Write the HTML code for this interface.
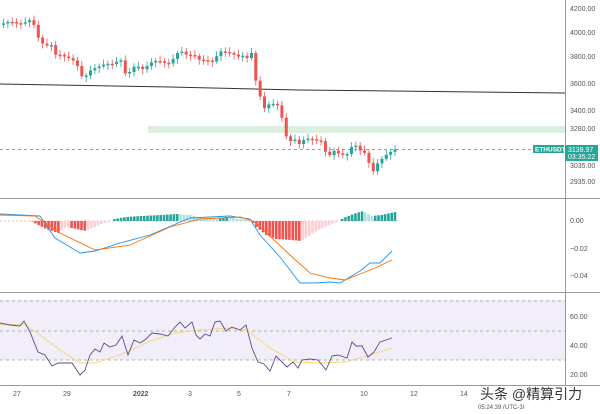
<!DOCTYPE html><html><head><meta charset="utf-8"><style>
body{margin:0;background:#fff;width:600px;height:409px;overflow:hidden;font-family:"Liberation Sans","Noto Sans CJK SC",sans-serif}
svg text{font-family:"Liberation Sans","Noto Sans CJK SC",sans-serif}
</style></head><body>
<svg id="s" width="600" height="409" xmlns="http://www.w3.org/2000/svg">
<rect x="148" y="126" width="417" height="7" fill="#dcefdc"/>
<line x1="0" y1="149.5" x2="565" y2="149.5" stroke="#26a69a" stroke-dasharray="3,3" stroke-width="0.7"/>
<polyline points="0,84 170,87 300,90 565,93" fill="none" stroke="#333" stroke-width="1"/>
<rect x="0" y="300" width="565" height="60" fill="#f1eefa"/>
<g stroke="#999" stroke-dasharray="3,3" stroke-width="0.7"><line x1="0" y1="301" x2="565" y2="301"/><line x1="0" y1="331" x2="565" y2="331"/><line x1="0" y1="360" x2="565" y2="360"/></g>
<line x1="0" y1="221" x2="400" y2="221" stroke="#e08080" stroke-dasharray="2,2" stroke-width="0.6"/>
<g id="g"></g>
<line x1="565.5" y1="0" x2="565.5" y2="386" stroke="#999"/>
<line x1="0" y1="198.5" x2="600" y2="198.5" stroke="#999"/>
<line x1="0" y1="292.5" x2="600" y2="292.5" stroke="#999"/>
<line x1="0" y1="385.5" x2="600" y2="385.5" stroke="#999"/>
<g font-size="7" fill="#555">
<text x="570" y="11">4200.00</text><text x="570" y="35">4000.00</text><text x="570" y="59">3800.00</text><text x="570" y="86">3600.00</text><text x="570" y="113">3400.00</text><text x="570" y="131">3280.00</text><text x="570" y="168">3035.00</text><text x="570" y="184">2935.00</text>
<text x="570" y="223">0.00</text><text x="570" y="251">−0.02</text><text x="570" y="278">−0.04</text>
<text x="570" y="319">60.00</text><text x="570" y="348">40.00</text><text x="570" y="377">20.00</text>
<text x="13" y="396">27</text><text x="63" y="396">29</text><text x="133" y="396" font-weight="bold">2022</text><text x="188" y="396">3</text><text x="237" y="396">5</text><text x="287" y="396">7</text><text x="360" y="396">10</text><text x="410" y="396">12</text><text x="460" y="396">14</text>
<text x="478" y="409" font-size="6">05:24:39 (UTC-3)</text>
</g>
<rect x="533" y="145" width="31" height="8" fill="#26a69a"/><text x="535" y="151.5" font-size="6.5" fill="#fff" font-weight="bold">ETHUSDT</text>
<rect x="565" y="145" width="33" height="16" fill="#26a69a"/><text x="568" y="152" font-size="7" fill="#fff">3139.97</text><text x="568" y="159" font-size="7" fill="#fff">03:35:22</text>
<text x="480" y="399" font-size="14" fill="#333">头条 @精算引力</text>
</svg>
<script>
const g=document.getElementById('g');let h='';
function interp(p,x){for(let i=1;i<p.length;i++){if(x<=p[i][0]){const a=p[i-1],b=p[i];return a[1]+(b[1]-a[1])*(x-a[0])/(b[0]-a[0]);}}return p[p.length-1][1];}
const K=[[0,24],[20,22],[28,21],[32,25],[36,37],[40,42],[45,44],[50,45],[54,56],[60,56],[70,57],[74,63],[78,70],[81,80],[85,76],[90,68],[95,66],[110,65],[118,58],[121,60],[125,79],[130,70],[135,66],[142,68],[148,63],[160,62],[168,62],[172,58],[178,52],[185,55],[192,53],[198,60],[204,62],[212,61],[216,53],[220,50],[226,54],[236,56],[242,54],[246,58],[250,54],[253,76],[256,90],[260,100],[263,107],[267,103],[272,104],[278,108],[284,135],[288,140],[293,138],[298,145],[304,140],[312,138],[318,140],[322,142],[326,165],[330,150],[336,152],[342,153],[348,155],[352,142],[356,150],[362,150],[366,155],[370,175],[374,168],[378,162],[382,158],[386,152],[390,150],[394,149]];
let prev=interp(K,0);
for(let x=2;x<=394;x+=4.35){let c=interp(K,x)+Math.sin(x*1.7)*1.5;let o=prev;let up=c<o;let col=up?'#26a69a':'#ef5350';let t=Math.min(o,c),b=Math.max(o,c);if(b-t<1.5)b=t+1.5;
h+=`<line x1="${x+1.5}" y1="${t-2-Math.abs(Math.sin(x))*3}" x2="${x+1.5}" y2="${b+2+Math.abs(Math.cos(x))*3}" stroke="${col}" stroke-width="0.8"/><rect x="${x}" y="${t}" width="3" height="${b-t}" fill="${col}"/>`;prev=c;}
// histogram
const H=[[0,0],[30,0],[35,3],[45,8],[57,12],[65,6],[75,8],[85,10],[100,3],[110,0],[113,-2],[125,-4],[140,-5],[160,-6],[175,-7],[190,-6],[200,-3],[215,-2],[225,-4],[240,-2],[250,0],[255,6],[265,14],[275,18],[290,19],[300,20],[315,10],[330,3],[338,0],[342,-3],[355,-8],[362,-10],[370,-5],[380,-6],[394,-9]];
let pv=0;for(let x=1;x<=394;x+=3.3){let v=interp(H,x);let col;if(v<0){col=(-v>-pv)?'#26a69a':'#b2dfdb'}else{col=(v>pv)?'#ef5350':'#ffcdd2'}if(Math.abs(v)>0.3){h+=`<rect x="${x}" y="${v<0?221+v:221}" width="2.6" height="${Math.abs(v)}" fill="${col}"/>`;}pv=v;}
function pl(p,c,w){h+=`<polyline points="${p.map(a=>a.join(',')).join(' ')}" fill="none" stroke="${c}" stroke-width="${w}"/>`;}
pl([[0,214],[40,216],[55,238],[80,253],[95,251],[120,243],[150,235],[190,218],[230,216],[250,219],[260,235],[280,257],[300,283],[315,283],[330,282],[340,283],[360,271],[370,263],[380,263],[392,251]],'#2196f3',0.9);
pl([[0,215],[35,216],[60,233],[95,250],[130,245],[170,227],[200,219],[240,217],[255,222],[290,255],[310,273],[330,278],[345,280],[360,274],[375,268],[392,260]],'#ff6d00',0.9);
pl([[0,325],[24,324],[40,335],[60,350],[80,363],[95,363],[120,355],[150,341],[175,333],[200,330],[230,328],[248,331],[270,348],[295,362],[320,363],[345,362],[370,355],[392,348]],'#f5d76e',0.9);
pl([[0,323],[10,325],[20,326],[24,321],[30,332],[38,352],[45,355],[52,366],[58,363],[65,363],[72,363],[80,375],[85,370],[90,355],[95,349],[100,352],[104,343],[110,347],[116,345],[122,336],[128,355],[134,340],[140,343],[146,339],[152,333],[160,334],[168,336],[175,327],[180,322],[185,328],[192,322],[196,335],[200,339],[205,334],[210,336],[215,322],[220,321],[226,331],[232,327],[240,330],[246,325],[252,348],[258,362],[264,364],[270,371],[276,356],[282,362],[287,367],[293,362],[298,368],[302,360],[310,359],[318,360],[326,370],[332,356],[338,355],[347,358],[352,342],[356,346],[362,346],[368,357],[374,352],[380,342],[386,340],[392,338]],'#5e4b8b',0.9);
g.innerHTML=h;
</script>
</body></html>
